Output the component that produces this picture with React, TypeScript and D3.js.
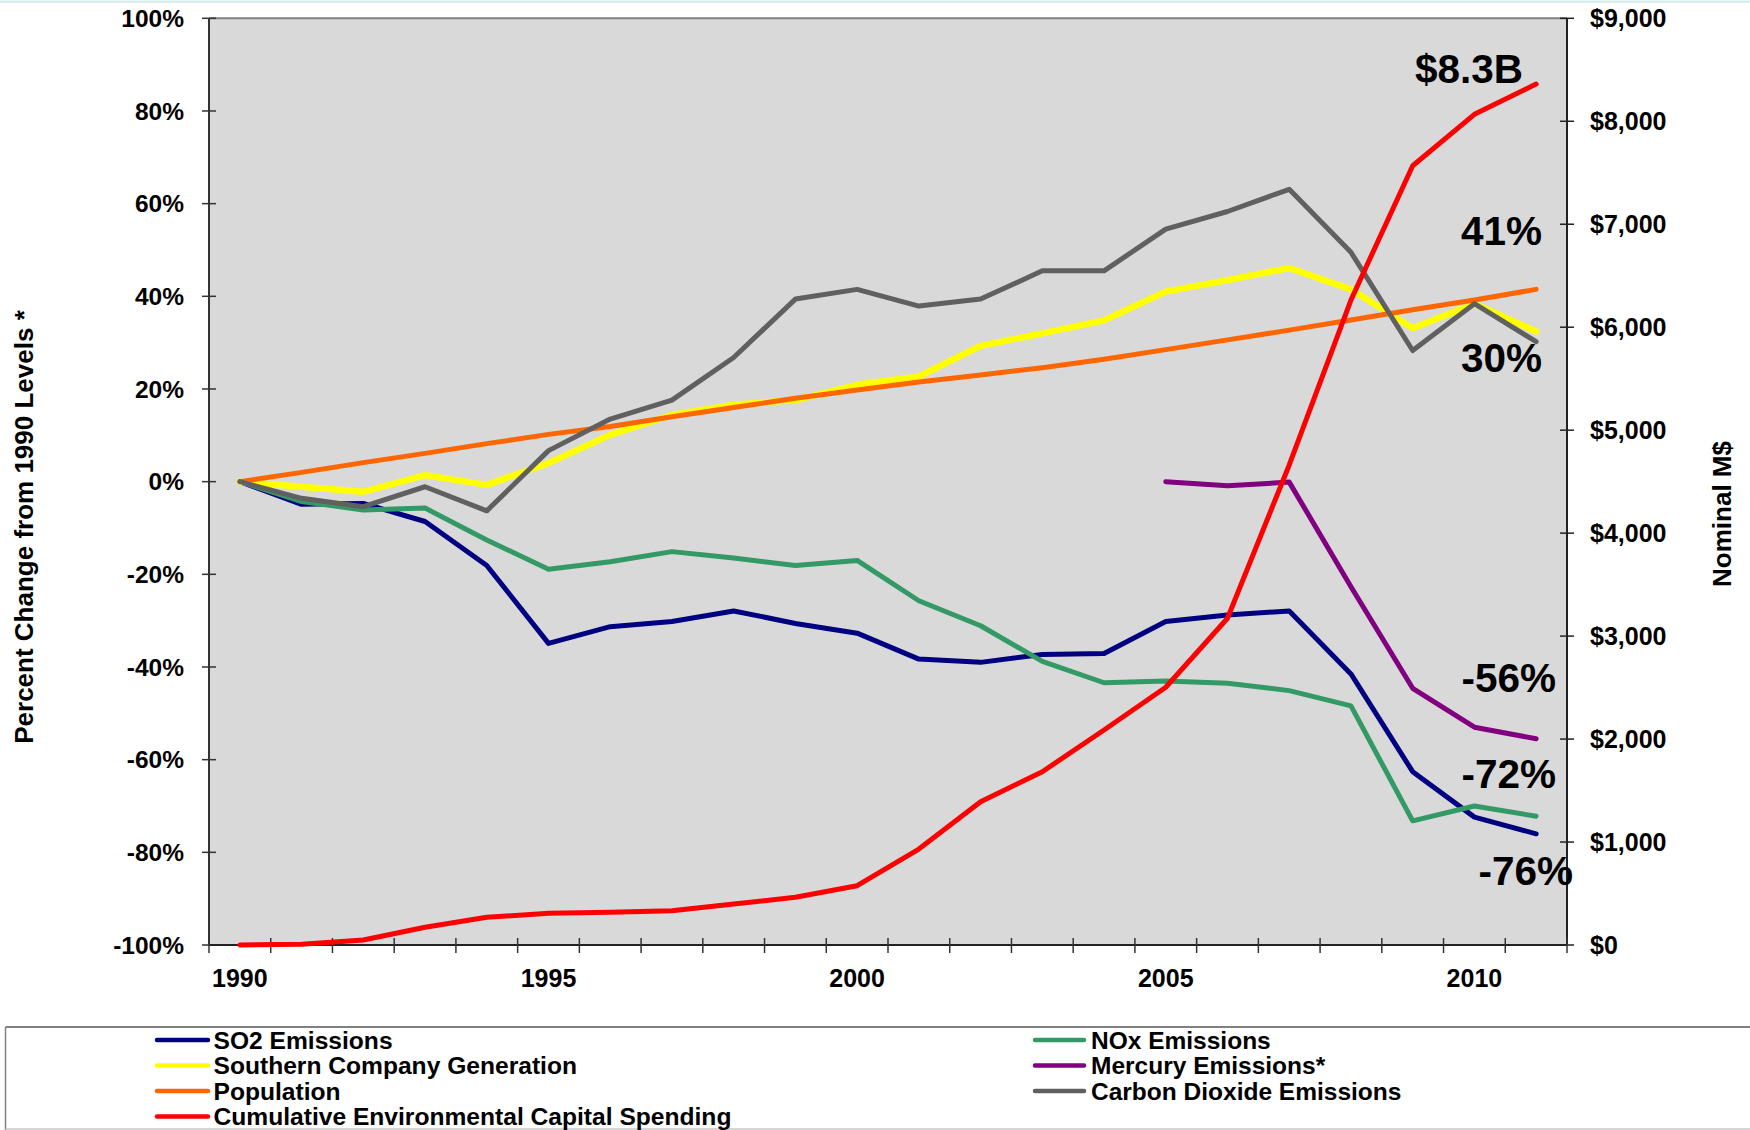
import React from "react";
import * as d3 from "d3";

const years = d3.range(1990, 2012).map(String);
const xTickLabels = ["1990", "1995", "2000", "2005", "2010"];
const leftTicks = [-100, -80, -60, -40, -20, 0, 20, 40, 60, 80, 100];
const rightTicks = [0, 1000, 2000, 3000, 4000, 5000, 6000, 7000, 8000, 9000];

const so2 = [0, -4.9, -4.7, -8.6, -18.1, -34.9, -31.3, -30.2, -27.9, -30.6, -32.7, -38.3, -39.0, -37.3, -37.1, -30.2, -28.8, -27.9, -41.5, -62.6, -72.4, -76.0];
const nox = [0, -4.3, -6.1, -5.7, -12.6, -18.9, -17.3, -15.1, -16.5, -18.1, -17.0, -25.7, -31.1, -38.8, -43.4, -43.0, -43.5, -45.1, -48.4, -73.2, -70.0, -72.2];
const generation = [0, -1.1, -2.2, 1.4, -0.7, 4.0, 10.1, 14.4, 16.6, 17.6, 20.9, 22.7, 29.3, 32.0, 34.8, 41.0, 43.5, 46.1, 41.5, 33.1, 38.4, 32.4];
const mercury = [null, null, null, null, null, null, null, null, null, null, null, null, null, null, null, 0, -0.9, -0.1, -22.7, -44.6, -53.0, -55.5];
const population = [0, 2.0, 4.1, 6.1, 8.2, 10.2, 11.9, 14.0, 16.0, 18.0, 19.8, 21.5, 23.0, 24.6, 26.4, 28.5, 30.6, 32.7, 34.9, 37.1, 39.2, 41.5];
const co2 = [0, -3.6, -5.4, -1.1, -6.3, 6.7, 13.5, 17.6, 26.8, 39.4, 41.5, 37.9, 39.4, 45.5, 45.5, 54.5, 58.3, 63.1, 49.5, 28.3, 38.4, 30.2];
const spending = [0, 8, 49, 172, 269, 308, 318, 333, 398, 463, 576, 932, 1392, 1683, 2088, 2503, 3173, 4662, 6264, 7568, 8067, 8362];

const annotations = [
  { text: "$8.3B", x: 1523, y: 83 },
  { text: "41%", x: 1542, y: 245 },
  { text: "30%", x: 1542, y: 372 },
  { text: "-56%", x: 1556, y: 692 },
  { text: "-72%", x: 1556, y: 788 },
  { text: "-76%", x: 1573, y: 885 },
];

const W = 1750;
const H = 1130;
const L = 209;
const R = 1567;
const T = 18.3;
const B = 945;
const FONT = "'Liberation Sans', Arial, sans-serif";

type Series = { name: string; color: string; width: number; values: (number | null)[]; axis: "left" | "right" };

const series: Series[] = [
  { name: "SO2 Emissions", color: "#000080", width: 5, values: so2, axis: "left" },
  { name: "NOx Emissions", color: "#339966", width: 5, values: nox, axis: "left" },
  { name: "Southern Company Generation", color: "#ffff00", width: 6.5, values: generation, axis: "left" },
  { name: "Mercury Emissions*", color: "#800080", width: 5, values: mercury, axis: "left" },
  { name: "Population", color: "#ff6600", width: 5, values: population, axis: "left" },
  { name: "Carbon Dioxide Emissions", color: "#606060", width: 5, values: co2, axis: "left" },
  { name: "Cumulative Environmental Capital Spending", color: "#ff0000", width: 5, values: spending, axis: "right" },
];

const legendLeft = ["SO2 Emissions", "Southern Company Generation", "Population", "Cumulative Environmental Capital Spending"];
const legendRight = ["NOx Emissions", "Mercury Emissions*", "Carbon Dioxide Emissions"];

export default function App() {
  const x = d3.scaleBand<string>().domain(years).range([L, R]).padding(0);
  const cx = (y: string) => (x(y) as number) + x.bandwidth() / 2;
  const yL = d3.scaleLinear().domain([-100, 100]).range([B, T]);
  const yR = d3.scaleLinear().domain([0, 9000]).range([B, T]);

  const boundaries = d3.range(0, years.length + 1).map((i) => L + i * x.bandwidth());

  const makePath = (s: Series) => {
    const ys = s.axis === "left" ? yL : yR;
    const line = d3
      .line<number | null>()
      .defined((v) => v !== null)
      .x((_, i) => cx(years[i]))
      .y((v) => ys(v as number));
    return line(s.values) || "";
  };

  const colorOf = (name: string) => series.find((s) => s.name === name)!.color;

  return (
    <div style={{ position: "absolute", left: 0, top: 0 }}>
      <svg width={W} height={H} style={{ display: "block", background: "#fff" }}>
        <rect x={0} y={0.5} width={W} height={2.5} fill="#dcefef" />
        <rect x={L} y={T} width={R - L} height={B - T} fill="#d9d9d9" />
        <line x1={L} x2={R} y1={T} y2={T} stroke="#808080" strokeWidth={2} />
        <line x1={L} x2={L} y1={T} y2={B} stroke="#333" strokeWidth={2} />
        {leftTicks.map((t) => (
          <g key={"l" + t}>
            <line x1={L - 7} x2={L + 7} y1={yL(t)} y2={yL(t)} stroke="#333" strokeWidth={1.5} />
            <text x={184} y={yL(t) + 8.8} textAnchor="end" fontFamily={FONT} fontWeight="bold" fontSize={24.5} fill="#000">
              {t + "%"}
            </text>
          </g>
        ))}
        <line x1={R} x2={R} y1={T} y2={B} stroke="#222" strokeWidth={2} />
        {rightTicks.map((t) => (
          <g key={"r" + t}>
            <line x1={R - 7} x2={R + 7} y1={yR(t)} y2={yR(t)} stroke="#222" strokeWidth={1.5} />
            <text x={1590} y={yR(t) + 8.8} textAnchor="start" fontFamily={FONT} fontWeight="bold" fontSize={25} fill="#000">
              {d3.format("$,")(t)}
            </text>
          </g>
        ))}
        <line x1={L} x2={R} y1={B} y2={B} stroke="#222" strokeWidth={2} />
        {boundaries.map((bx, i) => (
          <line key={"xt" + i} x1={bx} x2={bx} y1={B - 7} y2={B + 8} stroke="#333" strokeWidth={1.5} />
        ))}
        {xTickLabels.map((lab) => (
          <text key={"xl" + lab} x={cx(lab)} y={987} textAnchor="middle" fontFamily={FONT} fontWeight="bold" fontSize={25} fill="#000">
            {lab}
          </text>
        ))}
        {series.map((s) => (
          <path
            key={s.name}
            d={makePath(s)}
            fill="none"
            stroke={s.color}
            strokeWidth={s.width}
            strokeLinejoin="round"
            strokeLinecap="round"
          />
        ))}
        {annotations.map((a) => (
          <text key={a.text} x={a.x} y={a.y} textAnchor="end" fontFamily={FONT} fontWeight="bold" fontSize={40.5} fill="#000">
            {a.text}
          </text>
        ))}
        <text
          transform="translate(33,527) rotate(-90)"
          textAnchor="middle"
          fontFamily={FONT}
          fontWeight="bold"
          fontSize={26}
          fill="#000"
        >
          Percent Change from 1990 Levels *
        </text>
        <text
          transform="translate(1731,514) rotate(-90)"
          textAnchor="middle"
          fontFamily={FONT}
          fontWeight="bold"
          fontSize={26}
          fill="#000"
        >
          Nominal M$
        </text>
        <line x1={5.5} x2={W} y1={1027} y2={1027} stroke="#808080" strokeWidth={2} />
        <line x1={5.5} x2={5.5} y1={1027} y2={H} stroke="#808080" strokeWidth={1.5} />
        <line x1={5.5} x2={W} y1={1129} y2={1129} stroke="#c8c8c8" strokeWidth={1.5} />
        {legendLeft.map((name, i) => {
          const by = 1048.5 + i * 25.5;
          return (
            <g key={name}>
              <line x1={157} x2={208} y1={by - 8.5} y2={by - 8.5} stroke={colorOf(name)} strokeWidth={4.5} strokeLinecap="round" />
              <text x={213.5} y={by} fontFamily={FONT} fontWeight="bold" fontSize={24.6} fill="#000">
                {name}
              </text>
            </g>
          );
        })}
        {legendRight.map((name, i) => {
          const by = 1048.5 + i * 25.5;
          return (
            <g key={name}>
              <line x1={1035} x2={1084} y1={by - 8.5} y2={by - 8.5} stroke={colorOf(name)} strokeWidth={4.5} strokeLinecap="round" />
              <text x={1091} y={by} fontFamily={FONT} fontWeight="bold" fontSize={24.5} fill="#000">
                {name}
              </text>
            </g>
          );
        })}
      </svg>
    </div>
  );
}
